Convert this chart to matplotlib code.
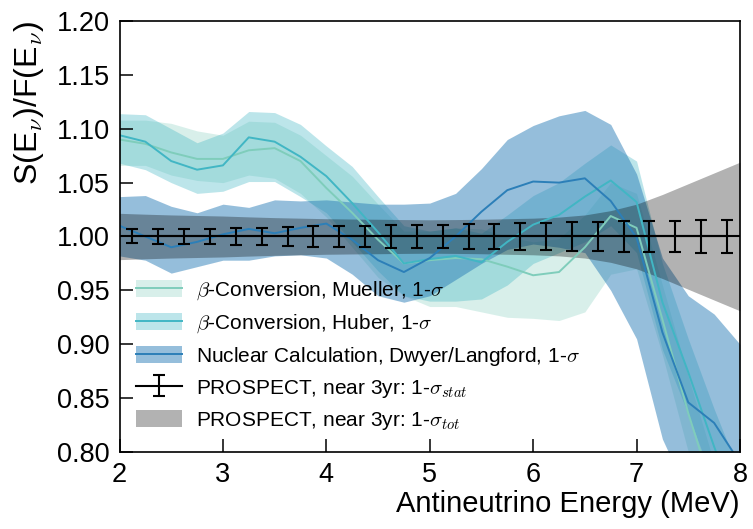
import numpy as np
import matplotlib
matplotlib.use("Agg")
import matplotlib.pyplot as plt
from matplotlib.patches import Patch
from matplotlib.lines import Line2D

plt.rcParams['font.family'] = ['Liberation Sans', 'DejaVu Sans']
plt.rcParams['mathtext.fontset'] = 'cm'

# ---- data ----
energy = [2.0, 2.25, 2.5, 2.75, 3.0, 3.25, 3.5, 3.75, 4.0, 4.25, 4.5, 4.75, 5.0,
          5.25, 5.5, 5.75, 6.0, 6.25, 6.5, 6.75, 7.0, 7.25, 7.5, 7.75, 8.0]

mueller_c = [1.090, 1.086, 1.078, 1.072, 1.072, 1.080, 1.082, 1.070, 1.045, 1.022, 0.997, 0.975, 0.978,
             0.980, 0.979, 0.972, 0.964, 0.967, 0.990, 1.019, 1.008, 0.923, 0.836, 0.760, 0.700]
mueller_hi = [1.108, 1.108, 1.105, 1.098, 1.094, 1.107, 1.106, 1.094, 1.075, 1.056, 1.030, 1.005, 1.005,
              1.008, 1.007, 1.000, 0.995, 0.998, 1.020, 1.050, 1.040, 0.955, 0.870, 0.790, 0.730]
mueller_lo = [1.066, 1.066, 1.057, 1.052, 1.050, 1.057, 1.054, 1.040, 1.018, 0.990, 0.962, 0.945, 0.935,
              0.935, 0.930, 0.925, 0.924, 0.922, 0.930, 0.965, 0.970, 0.890, 0.800, 0.720, 0.660]

huber_c = [1.094, 1.088, 1.070, 1.062, 1.066, 1.092, 1.088, 1.074, 1.056, 1.031, 1.004, 0.975, 0.979,
           0.982, 0.976, 0.995, 1.011, 1.020, 1.037, 1.052, 1.032, 0.939, 0.874, 0.805, 0.740]
huber_hi = [1.114, 1.113, 1.100, 1.087, 1.096, 1.116, 1.115, 1.104, 1.084, 1.065, 1.037, 1.010, 1.005,
            1.008, 1.003, 1.020, 1.038, 1.050, 1.068, 1.085, 1.070, 0.975, 0.905, 0.840, 0.780]
huber_lo = [1.068, 1.062, 1.050, 1.040, 1.042, 1.051, 1.051, 1.037, 1.022, 0.995, 0.968, 0.945, 0.940,
            0.940, 0.942, 0.955, 0.975, 0.985, 0.995, 1.010, 0.985, 0.895, 0.835, 0.770, 0.700]

dwyer_c = [1.010, 1.000, 0.990, 0.995, 1.002, 1.007, 1.003, 1.008, 1.012, 0.997, 0.978, 0.967, 0.980,
           1.000, 1.023, 1.043, 1.051, 1.050, 1.054, 1.033, 0.999, 0.911, 0.846, 0.827, 0.790]
dwyer_hi = [1.037, 1.038, 1.028, 1.022, 1.030, 1.027, 1.034, 1.033, 1.034, 1.032, 1.030, 1.030, 1.031,
            1.040, 1.063, 1.090, 1.103, 1.112, 1.117, 1.104, 1.058, 0.980, 0.945, 0.928, 0.900]
dwyer_lo = [0.982, 0.978, 0.966, 0.972, 0.978, 0.978, 0.982, 0.983, 0.980, 0.965, 0.945, 0.939, 0.945,
            0.960, 0.975, 0.988, 0.993, 0.990, 0.985, 0.950, 0.905, 0.812, 0.760, 0.740, 0.720]

# PROSPECT total-uncertainty half-width
tot_halfwidth = [0.0215, 0.0207, 0.0200, 0.0195, 0.0190, 0.0182, 0.0175, 0.0170, 0.0165, 0.0162, 0.0160, 0.0157, 0.0155,
                 0.0157, 0.0160, 0.0165, 0.0170, 0.0180, 0.0200, 0.0240, 0.0300, 0.0390, 0.0490, 0.0590, 0.0690]

# PROSPECT statistical error bars
stat_x = [2.125, 2.375, 2.625, 2.875, 3.125, 3.375, 3.625, 3.875, 4.125, 4.375, 4.625, 4.875,
          5.125, 5.375, 5.625, 5.875, 6.125, 6.375, 6.625, 6.875, 7.125, 7.375, 7.625, 7.875]
stat_err = [0.0065, 0.0068, 0.0070, 0.0072, 0.0078, 0.0082, 0.0087, 0.0093, 0.0095, 0.0100, 0.0104, 0.0108,
            0.0111, 0.0115, 0.0119, 0.0123, 0.0127, 0.0131, 0.0136, 0.0142, 0.0146, 0.0148, 0.0150, 0.0154]

labels = [r'$\beta$-Conversion, Mueller, 1-$\sigma$',
          r'$\beta$-Conversion, Huber, 1-$\sigma$',
          r'Nuclear Calculation, Dwyer/Langford, 1-$\sigma$',
          r'PROSPECT, near 3yr: 1-$\sigma_{stat}$',
          r'PROSPECT, near 3yr: 1-$\sigma_{tot}$']

c_mueller = '#7fcdbb'
c_huber = '#41b6c4'
c_dwyer = '#2c7fb8'

fig = plt.figure(figsize=(7.53, 5.29), dpi=100)
ax = fig.add_axes([0.1587, 0.1456, 0.8240, 0.8147])

E = np.array(energy)
ax.fill_between(E, mueller_lo, mueller_hi, color=c_mueller, alpha=0.3, lw=0)
ax.fill_between(E, huber_lo, huber_hi, color=c_huber, alpha=0.35, lw=0)
ax.fill_between(E, dwyer_lo, dwyer_hi, color=c_dwyer, alpha=0.5, lw=0)
ax.plot(E, mueller_c, color=c_mueller, lw=1.4)
ax.plot(E, huber_c, color=c_huber, lw=1.4)
ax.plot(E, dwyer_c, color=c_dwyer, lw=1.4)

tw = np.array(tot_halfwidth)
ax.fill_between(E, 1 - tw, 1 + tw, color='k', alpha=0.3, lw=0)

ax.axhline(1.0, color='k', lw=1.5)
eb = ax.errorbar(stat_x, np.ones(len(stat_x)), yerr=stat_err, fmt='-', color='k',
                 lw=1.5, elinewidth=1.5, capsize=4, capthick=1.5)

ax.set_xlim(2, 8)
ax.set_ylim(0.80, 1.20)
ax.set_xticks([2, 3, 4, 5, 6, 7, 8])
ax.set_yticks(np.arange(0.80, 1.2001, 0.05))
ax.set_yticklabels(['%.2f' % v for v in np.arange(0.80, 1.2001, 0.05)])
ax.tick_params(direction='in', length=9.5, width=1.1, labelsize=19.5, pad=7,
               top=False, right=False)
for s in ax.spines.values():
    s.set_linewidth(1.2)

ax.set_xlabel('Antineutrino Energy (MeV)', fontsize=21, loc='right', labelpad=2)
ax.set_ylabel(r'S(E$_\nu$)/F(E$_\nu$)', fontsize=23, loc='top', labelpad=8)

h1 = (Patch(facecolor=c_mueller, alpha=0.3, lw=0), Line2D([], [], color=c_mueller, lw=1.4))
h2 = (Patch(facecolor=c_huber, alpha=0.35, lw=0), Line2D([], [], color=c_huber, lw=1.4))
h3 = (Patch(facecolor=c_dwyer, alpha=0.5, lw=0), Line2D([], [], color=c_dwyer, lw=1.4))
h5 = Patch(facecolor='k', alpha=0.3, lw=0)
ax.legend([h1, h2, h3, eb, h5], labels, loc='lower left', frameon=False,
          bbox_to_anchor=(0.027, 0.047), borderaxespad=0, borderpad=0,
          fontsize=15, handlelength=2.2, handleheight=0.9, handletextpad=0.65,
          labelspacing=0.48)

fig.savefig('out.png', dpi=100)
